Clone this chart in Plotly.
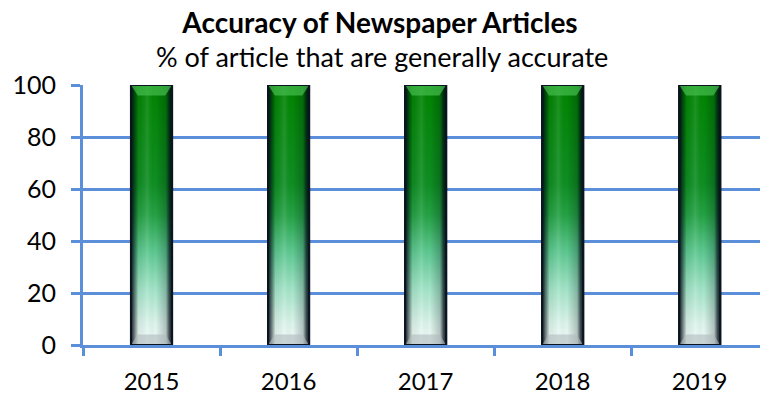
import plotly.graph_objects as go

# data
years = ["2015", "2016", "2017", "2018", "2019"]
accurate_pct = [100, 100, 100, 100, 100]

GRID = "#5B8FD9"
EDGE = "#0B1520"
FONT = "Lato, 'Open Sans', sans-serif"
BAR_W = 0.3

fig = go.Figure()

# base bars on the category axis
fig.add_trace(go.Bar(
    x=years, y=accurate_pct,
    width=BAR_W,
    marker=dict(color="#0A8A1A", line=dict(color=EDGE, width=2)),
    hoverinfo="skip",
))

# gradient overlays on a hidden numeric axis lined up with the categories
for i, v in enumerate(accurate_pct):
    x0, x1 = i - BAR_W / 2, i + BAR_W / 2
    # vertical green -> mint gradient
    fig.add_trace(go.Scatter(
        x=[x0, x1, x1, x0, x0], y=[0, 0, v, v, 0],
        xaxis="x2", mode="lines", fill="toself",
        line=dict(width=0),
        fillgradient=dict(
            type="vertical", start=0, stop=v,
            colorscale=[
                [0.0, "#F2FBF9"],
                [0.08, "#DDF4EC"],
                [0.22, "#A0E3C6"],
                [0.36, "#5CC890"],
                [0.5, "#24A244"],
                [0.62, "#0E8E22"],
                [1.0, "#008400"],
            ],
        ),
        hoverinfo="skip", showlegend=False,
    ))
    # side shading
    fig.add_trace(go.Scatter(
        x=[x0, x1, x1, x0, x0], y=[0, 0, v, v, 0],
        xaxis="x2", mode="lines", fill="toself",
        line=dict(width=0),
        fillgradient=dict(
            type="horizontal", start=x0, stop=x1,
            colorscale=[
                [0.0, "rgba(0,10,20,0.95)"],
                [0.08, "rgba(0,10,20,0.55)"],
                [0.18, "rgba(0,0,0,0.06)"],
                [0.4, "rgba(255,255,255,0.1)"],
                [0.6, "rgba(0,0,0,0)"],
                [0.85, "rgba(0,10,20,0.22)"],
                [0.93, "rgba(0,10,20,0.7)"],
                [1.0, "rgba(0,10,20,0.95)"],
            ],
        ),
        hoverinfo="skip", showlegend=False,
    ))
    # top bevel
    fig.add_trace(go.Scatter(
        x=[x0, x1, x1 - 0.05, x0 + 0.05, x0], y=[v, v, v - 4, v - 4, v],
        xaxis="x2", mode="lines", fill="toself",
        line=dict(width=0), fillcolor="rgba(70,190,80,0.7)",
        hoverinfo="skip", showlegend=False,
    ))
    # bottom bevel
    fig.add_trace(go.Scatter(
        x=[x0, x1, x1 - 0.05, x0 + 0.05, x0], y=[0, 0, 4, 4, 0],
        xaxis="x2", mode="lines", fill="toself",
        line=dict(width=0), fillcolor="rgba(175,185,188,0.6)",
        hoverinfo="skip", showlegend=False,
    ))
    # outline
    fig.add_trace(go.Scatter(
        x=[x0, x1, x1, x0, x0], y=[0, 0, v, v, 0],
        xaxis="x2", mode="lines",
        line=dict(color=EDGE, width=2),
        hoverinfo="skip", showlegend=False,
    ))

x_range = [-0.5, 4.44]

fig.update_layout(
    width=760, height=396,
    margin=dict(l=83, r=0, t=85, b=51, autoexpand=False),
    paper_bgcolor="white", plot_bgcolor="white",
    font=dict(family=FONT, color="black", size=24),
    showlegend=False,
    title=dict(
        text="<b>Accuracy of Newspaper Articles</b>",
        x=0.5, xref="container", xanchor="center",
        y=1 - 23 / 396, yref="container", yanchor="middle",
        font=dict(family=FONT, size=28, color="black"),
    ),
    annotations=[dict(
        text="% of article that are generally accurate",
        xref="paper", yref="paper",
        x=(382 - 83) / 677, y=(345 - 57) / 260,
        xanchor="center", yanchor="middle",
        showarrow=False,
        font=dict(family=FONT, size=27, color="black"),
    )],
    xaxis=dict(
        type="category", range=x_range, automargin=False,
        showgrid=False, zeroline=False,
        showline=True, linecolor=GRID, linewidth=3,
        ticks="outside", tickson="boundaries",
        ticklen=8, tickwidth=3, tickcolor=GRID,
        ticklabelstandoff=13,
        tickfont=dict(size=24),
    ),
    xaxis2=dict(
        overlaying="x", range=x_range, visible=False,
    ),
    yaxis=dict(
        range=[0, 100], dtick=20, automargin=False,
        showgrid=True, gridcolor=GRID, gridwidth=3,
        zeroline=False,
        showline=True, linecolor=GRID, linewidth=3,
        ticks="outside", ticklen=9, tickwidth=3, tickcolor=GRID,
        ticklabelstandoff=10,
        tickfont=dict(size=25),
    ),
)

# drop the default page margin so the figure sits at the window's corner
fig.write_html(
    "out.html",
    config={"displayModeBar": False},
    post_script="document.body.style.margin='0';",
)
